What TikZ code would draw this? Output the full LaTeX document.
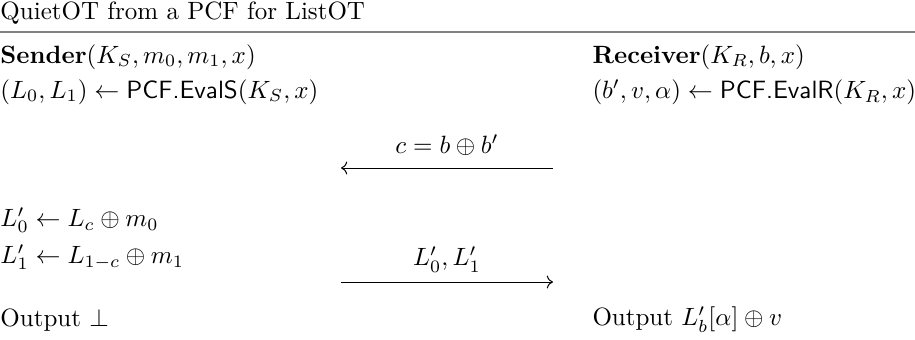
\documentclass[tikz,border=0pt]{standalone}
\usepackage{amsmath,amssymb}
\usetikzlibrary{arrows.meta,positioning}
\tikzset{
  step line/.style={anchor=west,inner sep=0pt},
  msg/.style={inner sep=0pt,yshift=9pt},
  msgarrow/.style={->,thin},
  headrule/.style={draw=gray,line width=0.8pt},
}
\begin{document}
\begin{tikzpicture}[x=0.4pt,y=-0.4pt]
  \useasboundingbox (0,0) rectangle (915,340);
  \node[step line] (title) at (0,13) {QuietOT from a PCF for ListOT};
  \draw[headrule] (0,32) -- (915,32);
  % sender column
  \node[step line] (snd) at (0,57) {$\textbf{Sender}(K_S,m_0,m_1,x)$};
  \node[step line] (sev) at (0,92) {$(L_0,L_1)\leftarrow\textsf{PCF.EvalS}(K_S,x)$};
  \node[step line] (sl0) at (0,220) {$L'_0\leftarrow L_c\oplus m_0$};
  \node[step line] (sl1) at (0,257) {$L'_1\leftarrow L_{1-c}\oplus m_1$};
  \node[step line] (sout) at (0,320) {Output $\bot$};
  % receiver column
  \node[step line] (rcv) at (592,57) {$\textbf{Receiver}(K_R,b,x)$};
  \node[step line] (rev) at (592,92) {$(b',v,\alpha)\leftarrow\textsf{PCF.EvalR}(K_R,x)$};
  \node[step line] (rout) at (592,320) {Output $L'_b[\alpha]\oplus v$};
  % messages
  \coordinate (m1r) at (553,168);
  \coordinate (m1l) at (341,168);
  \coordinate (m2l) at (341,282);
  \coordinate (m2r) at (553,282);
  \draw[msgarrow] (m1r) -- node[msg] (m1) {$c=b\oplus b'$} (m1l);
  \draw[msgarrow] (m2l) -- node[msg] (m2) {$L'_0,L'_1$} (m2r);
\end{tikzpicture}
\end{document}
